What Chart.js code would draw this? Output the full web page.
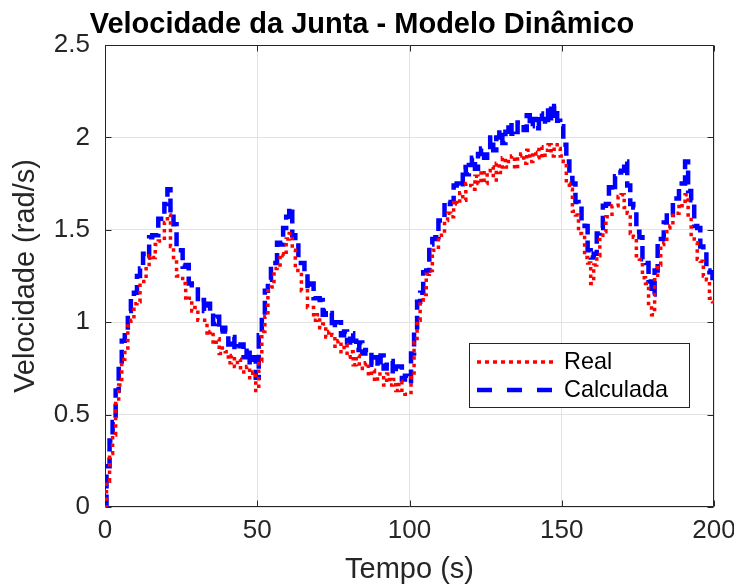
<!DOCTYPE html>
<html>
<head>
<meta charset="utf-8">
<script src="https://cdn.jsdelivr.net/npm/chart.js@4.4.1/dist/chart.umd.min.js"></script>
<style>
  body { margin: 0; background: #fff; }
  #wrap { width: 734px; height: 587px; }
</style>
</head>
<body>
<div id="wrap"><canvas id="chart0" width="734" height="587"></canvas></div>
<script>
// sample times (s), one every second
var tempo = Array.from({ length: 201 }, (_, i) => i);

// Real (red, dotted)
var real = [
  0.00, 0.14, 0.29, 0.39, 0.56, 0.66, 0.80, 0.85, 0.98, 1.01,
  1.10, 1.11, 1.22, 1.22, 1.30, 1.36, 1.35, 1.42, 1.44, 1.44,
  1.54, 1.58, 1.41, 1.35, 1.25, 1.25, 1.21, 1.12, 1.13, 1.06,
  1.08, 1.01, 1.01, 1.01, 0.93, 0.95, 0.88, 0.91, 0.83, 0.86,
  0.84, 0.78, 0.82, 0.76, 0.80, 0.73, 0.73, 0.76, 0.70, 0.73,
  0.63, 0.79, 0.95, 1.03, 1.17, 1.19, 1.29, 1.31, 1.37, 1.36,
  1.45, 1.48, 1.39, 1.28, 1.28, 1.17, 1.17, 1.08, 1.08, 1.01,
  1.04, 0.97, 0.99, 0.92, 0.95, 0.93, 0.87, 0.90, 0.84, 0.88,
  0.81, 0.84, 0.77, 0.82, 0.75, 0.77, 0.78, 0.71, 0.74, 0.68,
  0.72, 0.72, 0.66, 0.72, 0.66, 0.69, 0.63, 0.68, 0.62, 0.61,
  0.61, 0.70, 0.89, 1.01, 1.12, 1.15, 1.26, 1.28, 1.39, 1.39,
  1.47, 1.47, 1.55, 1.59, 1.57, 1.66, 1.64, 1.70, 1.66, 1.75,
  1.74, 1.72, 1.79, 1.75, 1.82, 1.75, 1.82, 1.84, 1.77, 1.86,
  1.81, 1.89, 1.84, 1.87, 1.90, 1.83, 1.90, 1.91, 1.86, 1.93,
  1.87, 1.92, 1.89, 1.95, 1.89, 1.93, 1.96, 1.90, 1.96, 1.94,
  1.90, 1.87, 1.75, 1.72, 1.60, 1.58, 1.48, 1.47, 1.35, 1.32,
  1.21, 1.31, 1.36, 1.47, 1.49, 1.57, 1.57, 1.63, 1.63, 1.68,
  1.69, 1.62, 1.59, 1.48, 1.46, 1.36, 1.34, 1.24, 1.21, 1.09,
  1.04, 1.23, 1.31, 1.42, 1.43, 1.51, 1.52, 1.59, 1.59, 1.64,
  1.63, 1.69, 1.58, 1.46, 1.43, 1.34, 1.33, 1.25, 1.23, 1.13,
  1.11
];

// Calculada (blue, dashed)
var calculada = [
  0.00, 0.22, 0.36, 0.46, 0.63, 0.76, 0.90, 0.93, 1.06, 1.13,
  1.16, 1.25, 1.29, 1.37, 1.35, 1.46, 1.47, 1.47, 1.56, 1.56,
  1.64, 1.72, 1.57, 1.53, 1.39, 1.39, 1.30, 1.31, 1.21, 1.20,
  1.19, 1.11, 1.12, 1.06, 1.10, 1.05, 0.99, 1.03, 0.95, 0.97,
  0.95, 0.88, 0.92, 0.85, 0.87, 0.88, 0.81, 0.86, 0.77, 0.81,
  0.70, 0.93, 1.03, 1.17, 1.23, 1.32, 1.32, 1.43, 1.42, 1.51,
  1.57, 1.62, 1.47, 1.44, 1.32, 1.32, 1.27, 1.18, 1.21, 1.13,
  1.13, 1.12, 1.04, 1.06, 1.05, 0.97, 1.00, 1.00, 0.93, 0.95,
  0.89, 0.94, 0.90, 0.85, 0.89, 0.83, 0.85, 0.85, 0.77, 0.81,
  0.76, 0.82, 0.75, 0.77, 0.79, 0.72, 0.76, 0.76, 0.69, 0.71,
  0.68, 0.83, 0.95, 1.11, 1.16, 1.27, 1.28, 1.42, 1.45, 1.46,
  1.55, 1.55, 1.65, 1.64, 1.65, 1.74, 1.75, 1.73, 1.84, 1.80,
  1.85, 1.89, 1.83, 1.91, 1.94, 1.89, 1.92, 2.00, 1.93, 2.00,
  2.04, 1.97, 2.03, 2.08, 2.02, 2.01, 2.08, 2.07, 2.04, 2.12,
  2.06, 2.10, 2.05, 2.13, 2.10, 2.07, 2.17, 2.09, 2.17, 2.09,
  2.06, 1.96, 1.87, 1.78, 1.75, 1.65, 1.63, 1.54, 1.52, 1.39,
  1.35, 1.37, 1.48, 1.51, 1.63, 1.64, 1.73, 1.71, 1.79, 1.81,
  1.82, 1.87, 1.74, 1.64, 1.62, 1.49, 1.46, 1.34, 1.32, 1.22,
  1.15, 1.28, 1.45, 1.45, 1.54, 1.59, 1.58, 1.67, 1.67, 1.75,
  1.75, 1.87, 1.71, 1.66, 1.52, 1.51, 1.41, 1.39, 1.28, 1.27,
  1.21
];

var xTicks = [0, 50, 100, 150, 200];
var yTicks = [0, 0.5, 1, 1.5, 2, 2.5];

var axisColor = "#262626";
var fontFamily = "'Liberation Sans', Arial, Helvetica, sans-serif";

function toPoints(values) {
  return values.map(function(v, i) { return { x: tempo[i], y: v }; });
}

// axes box with inward ticks (matlab style)
var axesBox = {
  id: "axesBox",
  beforeDatasetsDraw: function(chart) {
    var ctx = chart.ctx, a = chart.chartArea;
    var xs = chart.scales.x, ys = chart.scales.y;
    var L = Math.round(a.left) + 0.5, R = Math.round(a.right) - 0.5;
    var T = Math.round(a.top) + 0.5, B = Math.round(a.bottom) - 0.5;
    ctx.save();
    ctx.strokeStyle = axisColor;
    ctx.lineWidth = 1;
    ctx.beginPath();
    ctx.rect(L, T, R - L, B - T);
    xTicks.forEach(function(v) {
      var px = Math.round(xs.getPixelForValue(v)) + 0.5;
      ctx.moveTo(px, B); ctx.lineTo(px, B - 6);
      ctx.moveTo(px, T); ctx.lineTo(px, T + 6);
    });
    yTicks.forEach(function(v) {
      var py = Math.round(ys.getPixelForValue(v)) + 0.5;
      ctx.moveTo(L, py); ctx.lineTo(L + 6, py);
      ctx.moveTo(R, py); ctx.lineTo(R - 6, py);
    });
    ctx.stroke();
    ctx.restore();
  }
};

// title and inset legend
var overlay = {
  id: "overlay",
  afterDraw: function(chart) {
    var ctx = chart.ctx;
    ctx.save();
    ctx.fillStyle = "#000";
    ctx.font = "bold 29px " + fontFamily;
    ctx.textAlign = "center";
    ctx.textBaseline = "alphabetic";
    ctx.fillText("Velocidade da Junta - Modelo Dinâmico", 362, 33);

    // legend box
    var bx = 469, by = 343, bw = 220, bh = 64;
    ctx.fillStyle = "#fff";
    ctx.fillRect(bx, by, bw, bh);
    ctx.strokeStyle = axisColor;
    ctx.lineWidth = 1;
    ctx.strokeRect(bx + 0.5, by + 0.5, bw, bh);

    var rows = [19, 47];
    chart.data.datasets.forEach(function(ds, i) {
      var y = by + rows[i];
      ctx.beginPath();
      ctx.strokeStyle = ds.borderColor;
      ctx.lineWidth = ds.borderWidth;
      ctx.setLineDash(ds.legendDash);
      ctx.moveTo(bx + 8, y);
      ctx.lineTo(bx + 88, y);
      ctx.stroke();
      ctx.setLineDash([]);
      ctx.fillStyle = "#000";
      ctx.font = "23.4px " + fontFamily;
      ctx.textAlign = "left";
      ctx.textBaseline = "middle";
      ctx.fillText(ds.label, bx + 95, y + 1);
    });
    ctx.restore();
  }
};

var chartCanvas0 = document.getElementById("chart0").getContext("2d");

var chart0 = new Chart(chartCanvas0, {
  type: "line",
  data: {
    datasets: [
      {
        label: "Real",
        data: toPoints(real),
        borderColor: "#ff0000",
        borderWidth: 3.5,
        borderDash: [3.5, 4],
        legendDash: [4, 4],
        pointRadius: 0,
        stepped: "middle",
        fill: false
      },
      {
        label: "Calculada",
        data: toPoints(calculada),
        borderColor: "#0000ff",
        borderWidth: 4.5,
        borderDash: [14, 6],
        legendDash: [15, 15],
        pointRadius: 0,
        stepped: "middle",
        fill: false
      }
    ]
  },
  options: {
    responsive: false,
    animation: false,
    devicePixelRatio: 1,
    layout: { padding: { top: 45, right: 20, left: 0, bottom: 0 } },
    plugins: {
      legend: { display: false },
      tooltip: { enabled: false }
    },
    scales: {
      x: {
        type: "linear",
        min: 0,
        max: 200,
        afterFit: function(s) { s.height = 80; s.paddingLeft = 0; s.paddingRight = 0; },
        afterBuildTicks: function(s) { s.ticks = xTicks.map(function(v) { return { value: v }; }); },
        ticks: {
          color: axisColor,
          font: { family: fontFamily, size: 26 },
          padding: 8,
          maxRotation: 0,
          autoSkip: false,
          callback: function(v) { return String(v); }
        },
        grid: { color: "#e3e3e3", drawTicks: false },
        border: { display: false },
        title: {
          display: true,
          text: "Tempo (s)",
          color: axisColor,
          font: { family: fontFamily, size: 29 },
          padding: { top: 0, bottom: 0 }
        }
      },
      y: {
        min: 0,
        max: 2.5,
        afterFit: function(s) { s.width = 105; s.paddingTop = 0; s.paddingBottom = 0; },
        afterBuildTicks: function(s) { s.ticks = yTicks.map(function(v) { return { value: v }; }); },
        ticks: {
          color: axisColor,
          font: { family: fontFamily, size: 26 },
          padding: 15,
          autoSkip: false,
          callback: function(v) { return String(v); }
        },
        grid: { color: "#e3e3e3", drawTicks: false },
        border: { display: false },
        title: {
          display: true,
          text: "Velocidade (rad/s)",
          color: axisColor,
          font: { family: fontFamily, size: 29 },
          padding: { top: 9, bottom: 0 }
        }
      }
    }
  },
  plugins: [axesBox, overlay]
});
</script>
</body>
</html>
